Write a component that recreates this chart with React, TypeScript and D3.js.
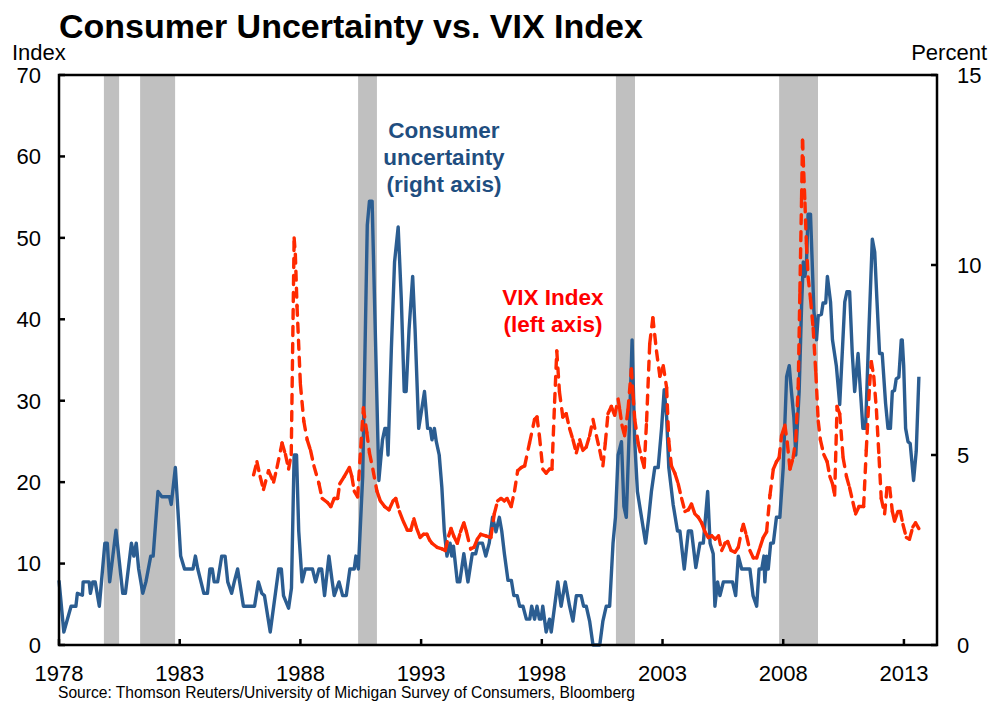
import React from 'react';
import * as d3 from 'd3';

// recession periods (decimal years)
const recessions: [number, number][] = [
  [1979.86, 1980.49],
  [1981.36, 1982.81],
  [1990.39, 1991.17],
  [2001.07, 2001.86],
  [2007.83, 2009.44],
];

// consumer uncertainty, percent (right axis) — [year, value]
const uncertainty: [number, number][] = [
  [1978.0, 1.7], [1978.2, 0.34], [1978.5, 1.02], [1978.7, 1.02], [1978.76, 1.36], [1978.97, 1.31],
  [1979.0, 1.66], [1979.25, 1.66], [1979.3, 1.36], [1979.4, 1.66], [1979.5, 1.66], [1979.67, 1.02],
  [1979.9, 2.68], [1980.0, 2.68], [1980.1, 1.66], [1980.36, 3.02], [1980.64, 1.36], [1980.75, 1.36],
  [1981.0, 2.68], [1981.1, 2.34], [1981.2, 2.68], [1981.3, 2.0], [1981.47, 1.36], [1981.6, 1.66],
  [1981.8, 2.34], [1981.9, 2.34], [1982.1, 4.04], [1982.26, 3.9], [1982.58, 3.9], [1982.65, 3.7],
  [1982.82, 4.67], [1983.04, 2.34], [1983.2, 2.0], [1983.55, 2.0], [1983.65, 2.34], [1983.75, 2.0],
  [1984.0, 1.36], [1984.15, 1.36], [1984.25, 2.0], [1984.35, 2.0], [1984.43, 1.66], [1984.57, 1.66],
  [1984.74, 2.34], [1984.88, 2.34], [1984.99, 1.66], [1985.15, 1.36], [1985.26, 1.66], [1985.4, 2.0],
  [1985.64, 1.02], [1986.1, 1.02], [1986.26, 1.66], [1986.4, 1.36], [1986.51, 1.3], [1986.75, 0.34],
  [1987.1, 2.0], [1987.21, 2.0], [1987.3, 1.3], [1987.51, 0.97], [1987.63, 1.5], [1987.74, 5.0],
  [1987.84, 5.0], [1987.93, 3.0], [1988.07, 1.66], [1988.2, 2.0], [1988.5, 2.0], [1988.63, 1.66],
  [1988.77, 2.0], [1988.88, 2.0], [1989.0, 1.3], [1989.18, 2.34], [1989.32, 1.66], [1989.4, 1.3],
  [1989.6, 1.66], [1989.75, 1.3], [1989.9, 1.3], [1990.05, 2.0], [1990.23, 2.0], [1990.3, 2.34],
  [1990.4, 2.0], [1990.58, 4.43], [1990.77, 11.05], [1990.86, 11.68], [1990.97, 11.68], [1991.1, 8.3],
  [1991.25, 4.33], [1991.4, 5.4], [1991.5, 5.7], [1991.57, 5.7], [1991.63, 5.0], [1991.77, 7.84],
  [1991.9, 10.08], [1992.05, 11.0], [1992.18, 9.1], [1992.3, 6.67], [1992.38, 6.67], [1992.5, 8.3],
  [1992.65, 9.7], [1992.75, 8.3], [1992.9, 5.7], [1993.0, 6.1], [1993.14, 6.67], [1993.27, 5.7],
  [1993.38, 5.7], [1993.45, 5.4], [1993.55, 5.7], [1993.63, 5.35], [1993.75, 5.0], [1993.86, 4.14],
  [1993.96, 3.0], [1994.07, 2.34], [1994.2, 2.68], [1994.27, 2.34], [1994.34, 2.6], [1994.5, 1.66],
  [1994.6, 1.66], [1994.77, 2.4], [1994.94, 1.66], [1995.12, 2.4], [1995.26, 2.4], [1995.36, 2.68],
  [1995.54, 2.68], [1995.68, 2.34], [1995.82, 2.68], [1995.96, 3.36], [1996.1, 2.98], [1996.24, 3.36],
  [1996.34, 3.0], [1996.45, 2.4], [1996.6, 1.7], [1996.74, 1.7], [1996.84, 1.3], [1996.98, 1.3],
  [1997.08, 1.02], [1997.22, 1.02], [1997.36, 0.68], [1997.5, 0.68], [1997.58, 1.02], [1997.7, 0.68],
  [1997.8, 1.02], [1997.9, 0.68], [1997.97, 0.68], [1998.04, 1.02], [1998.18, 0.34], [1998.32, 0.68],
  [1998.39, 0.34], [1998.53, 1.02], [1998.66, 1.66], [1998.8, 1.02], [1998.97, 1.66], [1999.15, 1.02],
  [1999.29, 0.63], [1999.43, 1.3], [1999.63, 1.3], [1999.73, 1.02], [1999.84, 1.02], [1999.98, 0.63],
  [2000.12, 0], [2000.4, 0], [2000.53, 0.63], [2000.67, 1.02], [2000.81, 1.02], [2000.95, 2.68],
  [2001.05, 3.36], [2001.16, 5.0], [2001.3, 5.35], [2001.4, 3.65], [2001.5, 3.36], [2001.62, 5.6],
  [2001.74, 8.03], [2001.85, 5.35], [2001.96, 4.04], [2002.13, 3.36], [2002.3, 2.68], [2002.43, 3.36],
  [2002.54, 4.04], [2002.68, 4.67], [2002.82, 4.67], [2002.96, 5.7], [2003.07, 6.72], [2003.17, 6.0],
  [2003.26, 4.67], [2003.44, 3.7], [2003.62, 3.0], [2003.72, 3.0], [2003.9, 2.0], [2004.07, 3.0],
  [2004.2, 3.0], [2004.38, 2.04], [2004.55, 2.68], [2004.69, 2.68], [2004.87, 4.04], [2004.97, 2.68],
  [2005.1, 2.4], [2005.17, 1.02], [2005.28, 1.66], [2005.38, 1.3], [2005.52, 1.66], [2005.76, 1.66],
  [2005.9, 1.66], [2006.03, 1.3], [2006.14, 2.34], [2006.28, 2.0], [2006.42, 2.0], [2006.5, 2.0],
  [2006.62, 2.0], [2006.75, 1.3], [2006.9, 1.02], [2007.0, 2.0], [2007.11, 2.0], [2007.2, 2.34],
  [2007.24, 1.66], [2007.31, 2.34], [2007.38, 2.0], [2007.48, 2.68], [2007.59, 2.68], [2007.72, 3.36],
  [2007.86, 3.36], [2008.0, 4.67], [2008.14, 7.06], [2008.25, 7.35], [2008.34, 6.67], [2008.44, 6.0],
  [2008.52, 5.0], [2008.66, 6.67], [2008.76, 8.9], [2008.83, 10.08], [2008.9, 9.7], [2008.96, 10.0],
  [2009.03, 11.34], [2009.13, 11.34], [2009.27, 8.8], [2009.38, 8.03], [2009.45, 8.67], [2009.58, 8.7],
  [2009.65, 9.0], [2009.76, 9.0], [2009.83, 9.7], [2009.96, 9.03], [2010.04, 8.03], [2010.2, 7.35],
  [2010.34, 6.33], [2010.55, 9.03], [2010.64, 9.3], [2010.75, 9.3], [2010.86, 7.67], [2010.96, 6.67],
  [2011.1, 7.67], [2011.2, 6.67], [2011.3, 5.7], [2011.41, 5.7], [2011.55, 8.3], [2011.69, 10.68],
  [2011.79, 10.34], [2011.88, 9.1], [2011.99, 7.67], [2012.1, 7.67], [2012.24, 6.36], [2012.34, 5.7],
  [2012.44, 5.7], [2012.52, 6.67], [2012.61, 6.7], [2012.68, 7.0], [2012.79, 7.05], [2012.89, 8.03],
  [2012.93, 8.03], [2012.99, 7.35], [2013.07, 5.7], [2013.17, 5.35], [2013.26, 5.3], [2013.4, 4.33],
  [2013.51, 5.1], [2013.62, 7.06],
];

// VIX index (left axis) — [year, value]
const vix: [number, number][] = [
  [1986.06, 20.9], [1986.2, 22.5], [1986.33, 20.7], [1986.47, 19.1], [1986.68, 21.4], [1986.89, 20.0],
  [1987.03, 21.8], [1987.24, 24.8], [1987.38, 23.4], [1987.51, 21.6], [1987.62, 23.4], [1987.74, 50.0],
  [1987.79, 48], [1987.86, 41.6], [1988.0, 32], [1988.14, 27.5], [1988.28, 25.2], [1988.42, 23.9],
  [1988.56, 22.0], [1988.77, 19.8], [1988.9, 18], [1989.12, 17.5], [1989.26, 17.0], [1989.4, 18.0],
  [1989.54, 18.0], [1989.63, 19.8], [1989.82, 20.7], [1990.03, 21.8], [1990.13, 20.7], [1990.23, 18.9],
  [1990.37, 18.2], [1990.5, 24.3], [1990.61, 29.1], [1990.75, 26.1], [1990.86, 23.6], [1991.0, 21.6],
  [1991.17, 18.9], [1991.31, 17.7], [1991.49, 17.0], [1991.67, 16.6], [1991.84, 17.7], [1991.95, 18.0],
  [1992.1, 16.4], [1992.26, 15.2], [1992.43, 14.1], [1992.57, 14.1], [1992.7, 15.5], [1992.82, 14.3],
  [1992.96, 13.2], [1993.1, 13.6], [1993.24, 13.6], [1993.35, 12.9], [1993.45, 12.5], [1993.66, 12.0],
  [1993.87, 11.8], [1994.0, 11.6], [1994.14, 13.4], [1994.24, 14.3], [1994.35, 13.4], [1994.5, 12.5],
  [1994.63, 13.9], [1994.77, 15.0], [1994.88, 13.9], [1995.05, 11.8], [1995.19, 12.0], [1995.33, 13.0],
  [1995.47, 13.6], [1995.68, 13.4], [1995.89, 13.2], [1996.03, 16.1], [1996.17, 17.7], [1996.31, 18.0],
  [1996.45, 17.7], [1996.56, 18.0], [1996.73, 17.0], [1996.87, 18.9], [1997.0, 21.4], [1997.15, 21.8],
  [1997.29, 22.0], [1997.49, 24.8], [1997.7, 27.7], [1997.8, 28], [1997.9, 25.7], [1998.04, 21.6],
  [1998.18, 21.1], [1998.32, 21.6], [1998.42, 21.6], [1998.53, 29.8], [1998.62, 36.1], [1998.73, 31.1],
  [1998.87, 28.0], [1999.01, 28.4], [1999.15, 26.6], [1999.29, 25.2], [1999.43, 23.6], [1999.57, 25.2],
  [1999.7, 23.9], [1999.84, 24.3], [1999.98, 25.7], [2000.12, 27.7], [2000.26, 25.7], [2000.4, 23.9],
  [2000.53, 22.0], [2000.63, 24.8], [2000.74, 28.4], [2000.88, 29.3], [2001.02, 28.2], [2001.16, 30.2],
  [2001.23, 28.9], [2001.32, 27.0], [2001.43, 25.7], [2001.57, 28.9], [2001.71, 33.9], [2001.78, 30.7],
  [2001.85, 27.7], [2001.99, 24.8], [2002.13, 23.0], [2002.24, 21.8], [2002.34, 27.5], [2002.47, 37.0],
  [2002.6, 40.2], [2002.75, 36.1], [2002.89, 33.0], [2003.03, 34.3], [2003.17, 31.6], [2003.26, 25.0],
  [2003.37, 22.0], [2003.51, 21.1], [2003.65, 19.8], [2003.79, 18.0], [2003.93, 16.4], [2004.07, 16.6],
  [2004.2, 17.3], [2004.34, 16.1], [2004.48, 15.7], [2004.62, 15.0], [2004.76, 13.9], [2004.9, 13.2],
  [2005.04, 13.4], [2005.18, 13.0], [2005.32, 13.4], [2005.45, 11.6], [2005.59, 12.5], [2005.7, 12.7],
  [2005.84, 11.6], [2006.0, 11.4], [2006.14, 12.0], [2006.28, 14.1], [2006.35, 14.8], [2006.48, 13.4],
  [2006.62, 11.6], [2006.76, 10.7], [2006.9, 10.7], [2007.04, 12.0], [2007.17, 13.2], [2007.31, 13.9],
  [2007.45, 18.4], [2007.59, 21.6], [2007.72, 22.5], [2007.83, 23.0], [2007.93, 25.7], [2008.07, 27.0],
  [2008.17, 24.8], [2008.28, 21.6], [2008.41, 23.0], [2008.52, 25.2], [2008.62, 31.6], [2008.69, 43.4],
  [2008.76, 54.8], [2008.8, 62.0], [2008.85, 58], [2008.9, 54.3], [2008.96, 49.3], [2009.03, 45.2],
  [2009.13, 42.5], [2009.24, 38.9], [2009.35, 33.4], [2009.45, 27.5], [2009.54, 25.2], [2009.68, 23.4],
  [2009.82, 22.5], [2009.93, 20.7], [2010.04, 19.8], [2010.13, 18.4], [2010.23, 29.3], [2010.34, 28.4],
  [2010.48, 23.0], [2010.62, 20.7], [2010.75, 19.3], [2010.89, 17.5], [2011.0, 16.1], [2011.14, 17.0],
  [2011.33, 17.0], [2011.44, 23.9], [2011.58, 32.0], [2011.65, 34.8], [2011.75, 33.0], [2011.86, 28.9],
  [2011.97, 23.0], [2012.06, 18.0], [2012.2, 16.1], [2012.3, 19.3], [2012.41, 19.3], [2012.52, 16.4],
  [2012.61, 15.2], [2012.75, 16.4], [2012.85, 16.4], [2012.96, 14.8], [2013.1, 13.2], [2013.23, 13.0],
  [2013.37, 14.5], [2013.48, 15.0], [2013.62, 14.3],
];

const yearTicks = [1978, 1983, 1988, 1993, 1998, 2003, 2008, 2013];
const indexTicks = [0, 10, 20, 30, 40, 50, 60, 70];
const percentTicks = [0, 5, 10, 15];

const FONT = '"Liberation Sans", Arial, Helvetica, sans-serif';
const BLUE = '#2b5d91';
const RED = '#ff2a00';

export default function App() {
  const W = 990;
  const H = 704;
  const left = 59, right = 937, top = 75, bottom = 645;

  const x = d3.scaleLinear().domain([1978, 2014.37]).range([left, right]);
  const yL = d3.scaleLinear().domain([0, 70]).range([bottom, top]);
  const yR = d3.scaleLinear().domain([0, 15]).range([bottom, top]);

  const blueLine = d3.line<[number, number]>()
    .x(d => x(d[0]))
    .y(d => yR(d[1]));

  // each segment gets its own dash pattern, so short steps look solid
  const vixSegments = d3.pairs(vix);

  return (
    <svg width={W} height={H} style={{ position: 'absolute', left: 0, top: 0, background: '#fff' }}
      fontFamily={FONT}>
      <text x={59} y={38} fontSize={34} fontWeight="bold" fill="#000">
        Consumer Uncertainty vs. VIX Index
      </text>
      <text x={12} y={60} fontSize={22}>Index</text>
      <text x={987} y={60} fontSize={22} textAnchor="end">Percent</text>

      {recessions.map(([a, b], i) => (
        <rect key={i} x={x(a)} y={top} width={x(b) - x(a)} height={bottom - top} fill="#c0c0c0" />
      ))}

      <path d={blueLine(uncertainty) || ''} fill="none" stroke={BLUE} strokeWidth={3.4}
        strokeLinejoin="round" />

      {vixSegments.map(([a, b], i) => (
        <line key={i} x1={x(a[0])} y1={yL(a[1])} x2={x(b[0])} y2={yL(b[1])}
          stroke={RED} strokeWidth={3.4} strokeDasharray="9,8" strokeLinecap="round" />
      ))}

      <rect x={left} y={top} width={right - left} height={bottom - top} fill="none"
        stroke="#000" strokeWidth={2.5} />

      {indexTicks.map(t => (
        <g key={'l' + t}>
          <line x1={left} x2={left + 6} y1={yL(t)} y2={yL(t)} stroke="#000" strokeWidth={2.5} />
          <text x={41} y={yL(t)} dy="0.36em" fontSize={22} textAnchor="end">{t}</text>
        </g>
      ))}
      {percentTicks.map(t => (
        <g key={'r' + t}>
          <line x1={right - 6} x2={right} y1={yR(t)} y2={yR(t)} stroke="#000" strokeWidth={2.5} />
          <text x={957} y={yR(t)} dy="0.36em" fontSize={22}>{t}</text>
        </g>
      ))}
      {yearTicks.map(t => (
        <g key={'x' + t}>
          <line x1={x(t)} x2={x(t)} y1={bottom} y2={bottom - 6} stroke="#000" strokeWidth={2.5} />
          <text x={x(t)} y={681} fontSize={22} textAnchor="middle">{t}</text>
        </g>
      ))}

      <g fontWeight="bold" fontSize={22.5} fill="#1f4e80" textAnchor="middle">
        <text x={444} y={138}>Consumer</text>
        <text x={444} y={165}>uncertainty</text>
        <text x={444} y={192}>(right axis)</text>
      </g>
      <g fontWeight="bold" fontSize={22.5} fill="#ff0000" textAnchor="middle">
        <text x={553} y={305}>VIX Index</text>
        <text x={553} y={332}>(left axis)</text>
      </g>

      <text x={58} y={698} fontSize={15.6}>
        Source: Thomson Reuters/University of Michigan Survey of Consumers, Bloomberg
      </text>
    </svg>
  );
}
